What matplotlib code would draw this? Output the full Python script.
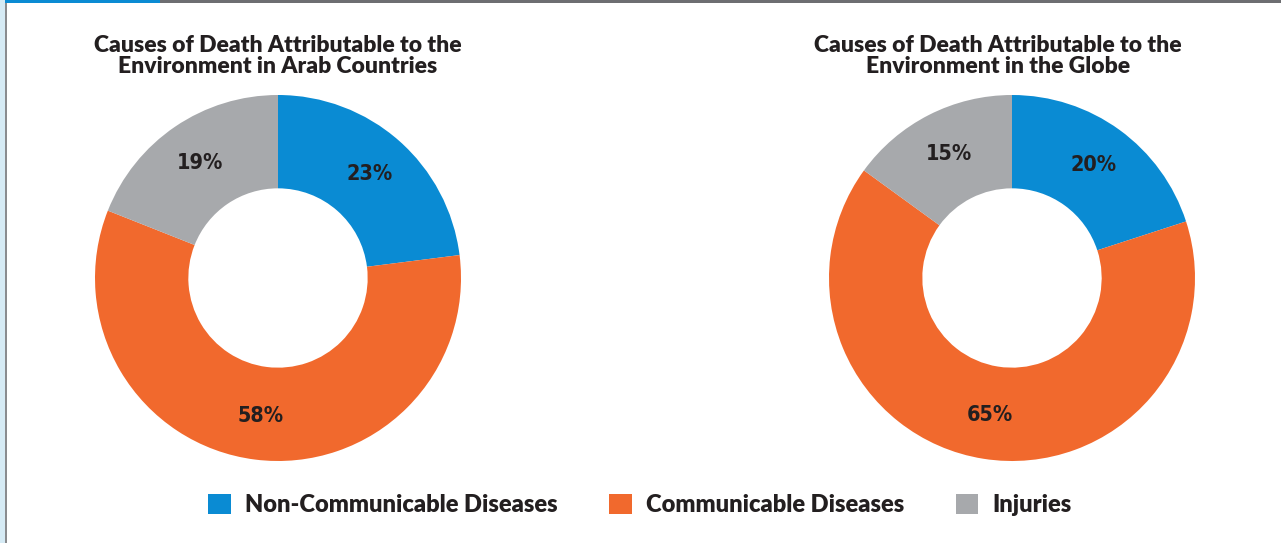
import matplotlib.pyplot as plt
from matplotlib.patches import Patch, Rectangle

# data
categories = ['Non-Communicable Diseases', 'Communicable Diseases', 'Injuries']
arab_values = [23, 58, 19]
globe_values = [20, 65, 15]
titles = ['Causes of Death Attributable to the\nEnvironment in Arab Countries',
          'Causes of Death Attributable to the\nEnvironment in the Globe']
colors = ['#0a8bd3', '#f1692d', '#a7a9ac']
text_col = '#231f20'

W, H = 1281, 543
fig = plt.figure(figsize=(W / 100, H / 100), dpi=100)

# frame decoration
fig.add_artist(Rectangle((0, 1 - 3 / H), 1, 3 / H, transform=fig.transFigure, color='#6d6e71', lw=0))
fig.add_artist(Rectangle((0, 1 - 3 / H), 160 / W, 3 / H, transform=fig.transFigure, color='#0a8bd3', lw=0))
fig.add_artist(Rectangle((0, 0), 5 / W, 1, transform=fig.transFigure, color='#d6ebf5', lw=0))
fig.add_artist(Rectangle((5 / W, 0), 2 / W, 1 - 3 / H, transform=fig.transFigure, color='#8a8c8f', lw=0))

R = 183
for cx, vals, title, tx in [(278, arab_values, titles[0], 278),
                            (1012, globe_values, titles[1], 998)]:
    ax = fig.add_axes([(cx - R) / W, 1 - (278 + R) / H, 2 * R / W, 2 * R / H])
    wedges, texts, autotexts = ax.pie(vals, colors=colors, startangle=90, counterclock=False,
                                      radius=1, autopct='%d%%', pctdistance=0.76,
                                      wedgeprops=dict(width=0.51, linewidth=0))
    for t in autotexts:
        t.set_fontfamily('DejaVu Sans')
        t.set_fontstretch('condensed')
        t.set_fontweight('bold')
        t.set_fontsize(15.5)
        t.set_color(text_col)
    ax.set_xlim(-1, 1)
    ax.set_ylim(-1, 1)
    ax.set_aspect('equal')
    ax.axis('off')
    fig.text(tx / W, 1 - 56 / H, title, ha='center', va='center', fontsize=16.5,
             fontweight='heavy', color=text_col, linespacing=0.98, family='Lato')

handles = [Patch(facecolor=c, edgecolor='none') for c in colors]
fig.legend(handles, categories, loc='center', bbox_to_anchor=(640 / W, 1 - 505 / H), ncol=3,
           frameon=False, handlelength=0.95, handleheight=0.95, handletextpad=0.6,
           columnspacing=2.2, prop=dict(family='Lato', weight='heavy', size=17),
           labelcolor=text_col)

fig.savefig('out.png', dpi=100)
